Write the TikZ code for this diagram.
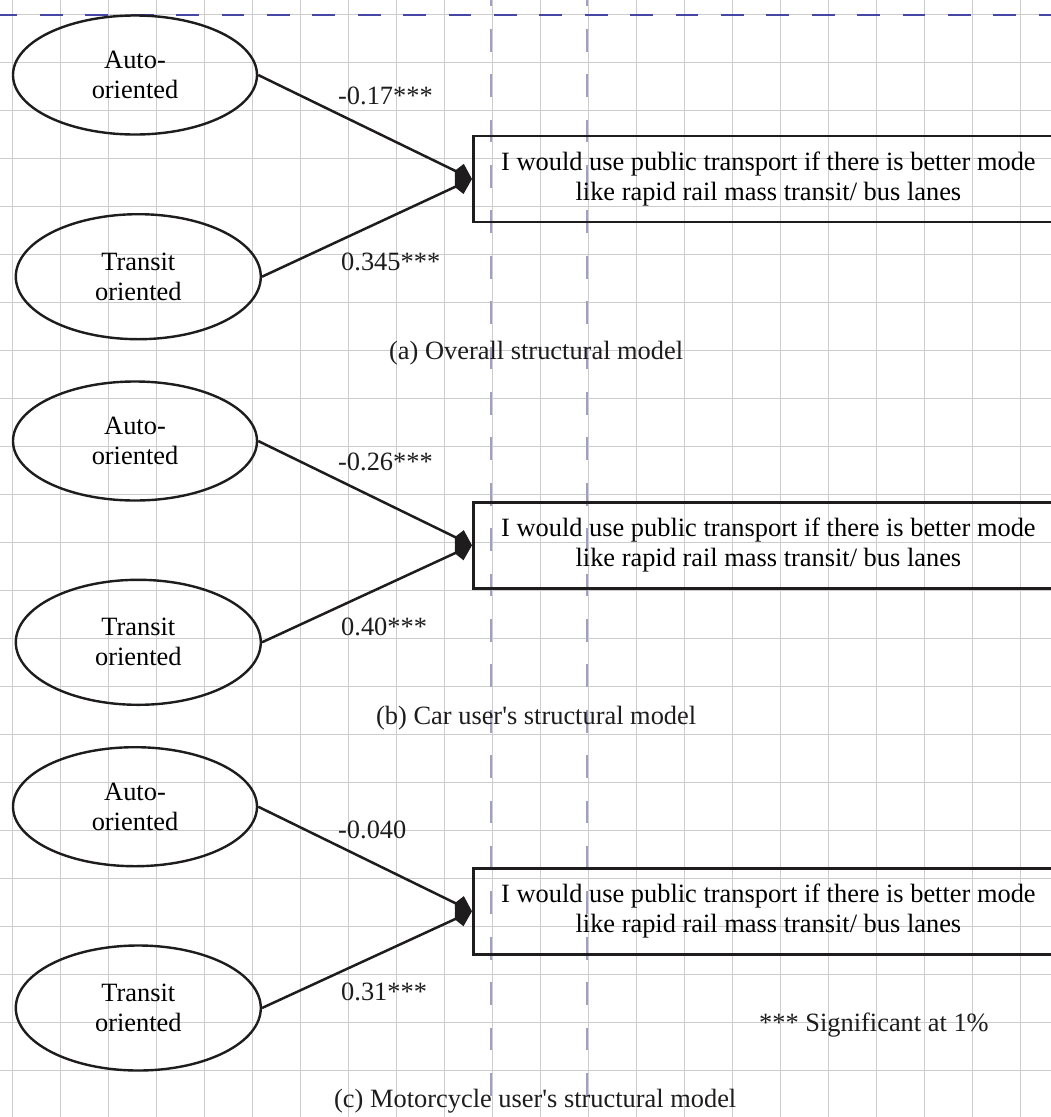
\documentclass[tikz,border=0pt]{standalone}
\usepackage{fontspec}
\setmainfont{Liberation Serif}[Ligatures=TeXOff]
\usetikzlibrary{arrows.meta,shapes.geometric}
\definecolor{gridc}{RGB}{204,204,204}
\definecolor{vdashc}{RGB}{160,160,195}
\definecolor{hdashc}{RGB}{70,70,165}
\definecolor{ink}{RGB}{30,28,28}
\newcommand\txtfont{\fontsize{26.4pt}{30pt}\selectfont}
\begin{document}
\begin{tikzpicture}[x=1pt,y=-1pt,
  gridline/.style={draw=gridc,line width=1.2pt},
  vdashline/.style={draw=vdashc,line width=2pt,dash pattern=on 22.7pt off 22.7pt,dash phase=16.6pt},
  hdashline/.style={draw=hdashc,line width=1.8pt,dash pattern=on 22.7pt off 22.7pt,dash phase=5.4pt},
  autoell/.style={ellipse,draw=ink,line width=2.4pt,minimum width=244pt,minimum height=119pt,inner sep=0pt,align=center,font=\txtfont},
  transell/.style={ellipse,draw=ink,line width=2.4pt,minimum width=245pt,minimum height=125pt,inner sep=0pt,align=center,font=\txtfont},
  outbox/.style={rectangle,draw=ink,line width=2.8pt,minimum width=590pt,minimum height=86pt,inner sep=0pt,anchor=west,align=center,font=\txtfont},
  coef/.style={anchor=west,inner sep=0pt,font=\txtfont,text=ink},
  conn/.style={draw=ink,line width=2.5pt,-{Kite[length=19pt,width=20pt,inset=5pt]}}
]
\useasboundingbox (0,0) rectangle (1051,1117);
\fill[white] (0,0) rectangle (1051,1117);
\clip (0,0) rectangle (1051,1117);
% grid
\foreach \i in {0,...,21} \draw[gridline] (12.7+48*\i,0) -- (12.7+48*\i,1117);
\foreach \j in {0,...,22} \draw[gridline] (0,14.7+48*\j) -- (1051,14.7+48*\j);
% guide lines
\draw[vdashline] (491,0) -- (491,1117);
\draw[vdashline] (587,0) -- (587,1117);
\draw[hdashline] (0,15) -- (1051,15);

% panel (a)
\node[autoell] (autoA) at (135,75) {Auto-\\oriented};
\node[transell] (transA) at (138.3,276.7) {Transit\\oriented};
\node[outbox] (boxA) at (472,179) {I would use public transport if there is better mode\\like rapid rail mass transit/ bus lanes};
\draw[conn] (autoA.east) -- (boxA.west);
\draw[conn] (transA.east) -- (boxA.west);
\node[coef] (cAa) at (338,96) {-0.17***};
\node[coef] (cAt) at (341,262) {0.345***};
\node[coef] (capA) at (389,353) {(a) Overall structural model};

% panel (b)
\node[autoell] (autoB) at (135,441) {Auto-\\oriented};
\node[transell] (transB) at (138.3,642.3) {Transit\\oriented};
\node[outbox] (boxB) at (472,545.3) {I would use public transport if there is better mode\\like rapid rail mass transit/ bus lanes};
\draw[conn] (autoB.east) -- (boxB.west);
\draw[conn] (transB.east) -- (boxB.west);
\node[coef] (cBa) at (338,462) {-0.26***};
\node[coef] (cBt) at (341,627) {0.40***};
\node[coef] (capB) at (376,718.5) {(b) Car user's structural model};

% panel (c)
\node[autoell] (autoC) at (135,806.7) {Auto-\\oriented};
\node[transell] (transC) at (138.3,1008) {Transit\\oriented};
\node[outbox] (boxC) at (472,911.3) {I would use public transport if there is better mode\\like rapid rail mass transit/ bus lanes};
\draw[conn] (autoC.east) -- (boxC.west);
\draw[conn] (transC.east) -- (boxC.west);
\node[coef] (cCa) at (338,830) {-0.040};
\node[coef] (cCt) at (341,992) {0.31***};
\node[coef] (capC) at (334,1101.5) {(c) Motorcycle user's structural model};
\node[coef] (legend) at (759,1025) {*** Significant at 1\%};
\end{tikzpicture}
\end{document}
